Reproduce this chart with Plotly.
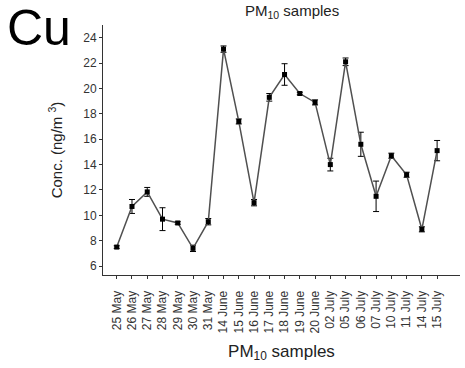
import plotly.graph_objects as go

dates = ["25 May", "26 May", "27 May", "28 May", "29 May", "30 May", "31 May",
         "14 June", "15 June", "16 June", "17 June", "18 June", "19 June", "20 June",
         "02 July", "05 July", "06 July", "07 July", "10 July", "11 July", "14 July", "15 July"]
cu_conc = [7.5, 10.7, 11.85, 9.7, 9.4, 7.4, 9.5,
           23.1, 17.4, 11.0, 19.3, 21.1, 19.6, 18.9,
           14.0, 22.1, 15.6, 11.5, 14.7, 13.2, 8.9, 15.1]
cu_err = [0.1, 0.55, 0.35, 0.9, 0.1, 0.25, 0.25,
          0.25, 0.2, 0.25, 0.3, 0.85, 0.1, 0.2,
          0.5, 0.3, 0.95, 1.2, 0.2, 0.2, 0.2, 0.8]
y_ticks = [6, 8, 10, 12, 14, 16, 18, 20, 22, 24]

fig = go.Figure()
fig.add_trace(go.Scatter(
    x=list(range(len(dates))), y=cu_conc,
    mode="lines+markers",
    line=dict(color="#505050", width=1.5),
    marker=dict(symbol="square", size=5, color="black"),
    error_y=dict(type="data", array=cu_err, visible=True, color="black",
                 thickness=1, width=3),
    showlegend=False,
))

font = "Liberation Sans, Arial, sans-serif"
fig.update_layout(
    width=465, height=368,
    margin=dict(l=103, r=5, t=25, b=93),
    paper_bgcolor="white", plot_bgcolor="white",
    font=dict(family=font, color="#222", size=12),
    xaxis=dict(
        range=[-0.9, 22.5],
        tickmode="array", tickvals=list(range(len(dates))), ticktext=dates,
        tickangle=-90, showline=True, linecolor="#333", linewidth=1,
        ticks="outside", ticklen=3, tickcolor="#333", showgrid=False, zeroline=False,
        ticklabelstandoff=7,
        tickfont=dict(size=12, family=font, color="#333"),
        title=dict(text="PM<sub>10</sub> samples", font=dict(size=17, family=font, color="#222"),
                   standoff=12),
    ),
    yaxis=dict(
        range=[5.3, 25], tickvals=y_ticks, showline=True, linecolor="#333", linewidth=1,
        ticks="outside", ticklen=3, tickcolor="#333", showgrid=False, zeroline=False,
        tickfont=dict(size=12, family=font, color="#333"),
        title=dict(text="Conc. (ng/m <sup>3</sup>)", font=dict(size=15, family=font, color="#222"),
                   standoff=16),
    ),
)
plot_w = 465 - 103 - 5
plot_h = 368 - 25 - 93
fig.add_annotation(text="Cu", xref="paper", yref="paper",
                   x=(39 - 103) / plot_w, y=(368 - 93 - 28) / plot_h,
                   xanchor="center", yanchor="middle", showarrow=False,
                   font=dict(size=50, family=font, color="black"))
fig.add_annotation(text="PM<sub>10</sub> samples", xref="paper", yref="paper",
                   x=0.53, y=1.0, yanchor="bottom", yshift=2, showarrow=False,
                   font=dict(size=15, family=font, color="#222"))
fig.write_html("out.html")
